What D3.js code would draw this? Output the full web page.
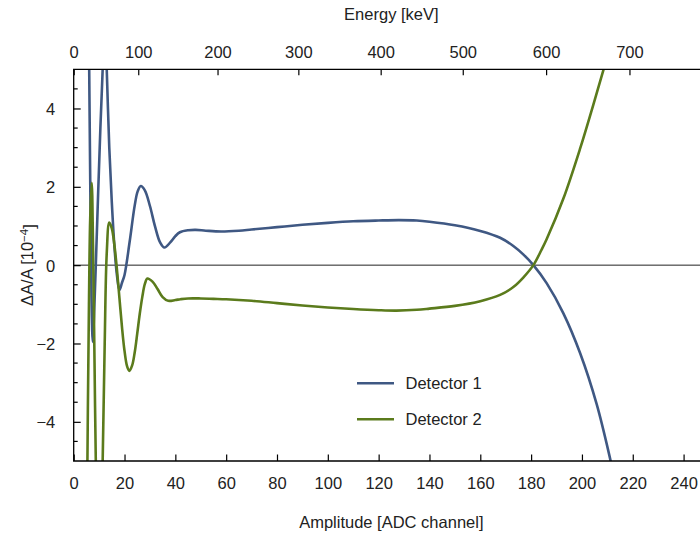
<!DOCTYPE html>
<html>
<head>
<meta charset="utf-8">
<script src="https://cdn.jsdelivr.net/npm/d3@7"></script>
<style>
  html, body { margin: 0; padding: 0; background: #fff; }
  svg { display: block; }
  text { font-family: "Liberation Sans", Arial, sans-serif; fill: #222; }
</style>
</head>
<body>
<svg id="chart" width="700" height="537"></svg>
<script>
// Relative amplitude deviation per detector, in units of 1e-4
const amplitude1 = [5.0, 5.6, 6.1, 6.6, 7.0, 7.5, 8.0, 8.7, 9.6, 10.5, 11.4, 12.2, 13.0, 14.0, 15.0, 16.0, 17.0, 18.0,
  19.0, 20.0, 22.0, 24.0, 25.2, 26.4, 28.0, 30.0, 32.0, 34.0, 35.7, 38.0, 40.0, 41.8, 45.0, 48.0, 52.0, 58.0, 65.0,
  70.0, 80.0, 90.0, 100.0, 110.0, 120.0, 128.0, 135.0, 140.0, 150.0, 160.0, 167.8, 173.0, 177.0, 180.9, 186.1,
  192.7, 199.3, 205.8, 211.3, 214.0];
const deviation1 = [14.0, 9.0, 5.0, 1.5, -0.8, -1.96, -1.3, 0.0, 1.8, 3.5, 5.0, 6.5, 5.0, 3.0, 1.6, 0.5, -0.25, -0.64,
  -0.45, -0.25, 0.59, 1.52, 1.89, 2.02, 1.91, 1.51, 0.99, 0.58, 0.45, 0.58, 0.74, 0.84, 0.89, 0.90, 0.88, 0.86, 0.88,
  0.91, 0.97, 1.03, 1.08, 1.12, 1.14, 1.15, 1.14, 1.11, 1.02, 0.875, 0.70, 0.49, 0.27, 0.0, -0.46,
  -1.23, -2.25, -3.55, -5.0, -5.8];

const amplitude2 = [4.6, 5.0, 5.4, 6.0, 6.5, 7.1, 7.6, 8.2, 8.7, 9.8, 11.4, 12.2, 13.0, 14.0, 15.0, 16.0, 17.0, 18.0,
  19.0, 20.0, 21.0, 21.9, 23.0, 24.0, 25.0, 26.0, 27.0, 28.0, 29.0, 31.0, 33.0, 35.0, 37.2, 40.0, 42.0, 45.0, 50.0,
  55.0, 60.0, 70.0, 80.0, 90.0, 100.0, 110.0, 120.0, 127.0, 135.0, 140.0, 150.0, 160.0, 167.8, 173.0, 177.0,
  180.9, 184.0, 186.1, 192.7, 199.3, 204.5, 208.8, 211.0];
const deviation2 = [-12.0, -9.0, -5.0, -1.0, 1.2, 2.1, 0.5, -2.5, -5.0, -8.5, -5.0, -2.0, 0.3, 1.09, 0.94, 0.52, -0.10,
  -0.84, -1.58, -2.19, -2.58, -2.70, -2.56, -2.23, -1.75, -1.24, -0.81, -0.48, -0.34, -0.42, -0.61, -0.815, -0.91,
  -0.89, -0.87, -0.85, -0.85, -0.86, -0.87, -0.91, -0.97, -1.03, -1.08, -1.12, -1.15, -1.16, -1.14, -1.11, -1.04,
  -0.92, -0.76, -0.56, -0.31, 0.0, 0.38, 0.66, 1.70, 2.98, 4.10, 5.06, 5.55];

const seriesNames = ["Detector 1", "Detector 2"];
const seriesColors = ["#3f5883", "#5b7b1c"];

// Axis ticks
const amplitudeTicks = d3.range(0, 241, 20);
const deviationMajorTicks = [-4, -2, 0, 2, 4];
const deviationMinorTicks = d3.range(-4.5, 5, 0.5).filter(v => !deviationMajorTicks.includes(v));
// Energy calibration: amplitude (ADC channel) at each energy tick
const energyTicks = [0, 100, 200, 300, 400, 500, 600, 700];
const energyTickAmplitudes = [0, 25.4, 56.6, 88.4, 120.8, 153.1, 185.9, 218.7];

const svg = d3.select("#chart");
const plotLeft = 73.7, plotRight = 709, plotTop = 69.3, plotBottom = 461;

const x = d3.scaleLinear().domain([0, 250]).range([plotLeft, plotRight]);
const y = d3.scaleLinear().domain([-5, 5]).range([plotBottom, plotTop]);
const xEnergy = d3.scaleLinear().domain(energyTicks).range(energyTickAmplitudes.map(a => x(a)));

svg.append("defs").append("clipPath").attr("id", "plotClip")
  .append("rect").attr("x", plotLeft).attr("y", plotTop)
  .attr("width", plotRight - plotLeft).attr("height", plotBottom - plotTop);

// Zero reference line
svg.append("line")
  .attr("x1", plotLeft).attr("x2", plotRight).attr("y1", y(0)).attr("y2", y(0))
  .attr("stroke", "#222").attr("stroke-width", 1);

// Curves
const line = d3.line().x(d => x(d[0])).y(d => y(d[1])).curve(d3.curveCatmullRom.alpha(0.5));
const series = [d3.zip(amplitude1, deviation1), d3.zip(amplitude2, deviation2)];
const plot = svg.append("g").attr("clip-path", "url(#plotClip)");
series.forEach((pts, i) => {
  plot.append("path").datum(pts)
    .attr("d", line)
    .attr("fill", "none")
    .attr("stroke", seriesColors[i])
    .attr("stroke-width", 2.6)
    .attr("stroke-linejoin", "round");
});

// Axes (ticks point inward)
const fontSize = 16.5;
const bottomAxis = svg.append("g").attr("transform", `translate(0,${plotBottom})`)
  .call(d3.axisBottom(x).tickValues(amplitudeTicks).tickSize(-6.5).tickPadding(0).tickFormat(d3.format("d")));
bottomAxis.selectAll("text").attr("dy", null).attr("y", 28).style("font-size", fontSize + "px");

const topAxis = svg.append("g").attr("transform", `translate(0,${plotTop})`)
  .call(d3.axisTop(xEnergy).tickValues(energyTicks).tickSize(-6).tickPadding(0).tickFormat(d3.format("d")));
topAxis.selectAll("text").attr("dy", null).attr("y", -11.5).style("font-size", fontSize + "px");

const fmtMinus = d => (d < 0 ? "\u2212" + Math.abs(d) : String(d));
const leftAxis = svg.append("g").attr("transform", `translate(${plotLeft},0)`)
  .call(d3.axisLeft(y).tickValues(deviationMajorTicks).tickSize(-7).tickPadding(0).tickFormat(fmtMinus));
leftAxis.selectAll("text").attr("x", -18.5).attr("dy", "0.36em").style("font-size", fontSize + "px");
leftAxis.selectAll(".minor").data(deviationMinorTicks).enter().append("line")
  .attr("class", "minor")
  .attr("x1", 0).attr("x2", 4).attr("y1", d => y(d)).attr("y2", d => y(d))
  .attr("stroke", "#000").attr("stroke-width", 1.2);

[bottomAxis, topAxis, leftAxis].forEach(g => {
  g.select(".domain").remove();
  g.selectAll(".tick line").attr("stroke", "#000").attr("stroke-width", 1.2);
  g.selectAll("text").attr("fill", "#222");
});

// Frame spines
svg.append("path")
  .attr("d", `M${plotRight},${plotTop}H${plotLeft}V${plotBottom}H${plotRight}`)
  .attr("fill", "none").attr("stroke", "#000").attr("stroke-width", 1.3);
svg.append("line")
  .attr("x1", plotRight).attr("x2", plotRight).attr("y1", plotTop).attr("y2", plotBottom)
  .attr("stroke", "#000").attr("stroke-width", 1.3);

// Axis titles
svg.append("text").attr("x", (plotLeft + plotRight) / 2).attr("y", 20)
  .attr("text-anchor", "middle").style("font-size", "16.5px").text("Energy [keV]");
svg.append("text").attr("x", (plotLeft + plotRight) / 2).attr("y", 528)
  .attr("text-anchor", "middle").style("font-size", "16.5px").text("Amplitude [ADC channel]");
const yTitle = svg.append("text")
  .attr("transform", `translate(33,${(plotTop + plotBottom) / 2}) rotate(-90)`)
  .attr("text-anchor", "middle").style("font-size", "16.5px");
yTitle.append("tspan").text("\u0394A/A [10");
yTitle.append("tspan").attr("dy", "-0.45em").style("font-size", "11.5px").text("\u22124");
yTitle.append("tspan").attr("dy", "0.45em").text("]");

// Legend
const legend = svg.append("g");
seriesNames.forEach((name, i) => {
  const ly = 383.3 + i * 36;
  legend.append("line").attr("x1", 357).attr("x2", 394).attr("y1", ly).attr("y2", ly)
    .attr("stroke", seriesColors[i]).attr("stroke-width", 2.6);
  legend.append("text").attr("x", 405.5).attr("y", ly).attr("dy", "0.36em")
    .style("font-size", "16.5px").text(name);
});
</script>
</body>
</html>
